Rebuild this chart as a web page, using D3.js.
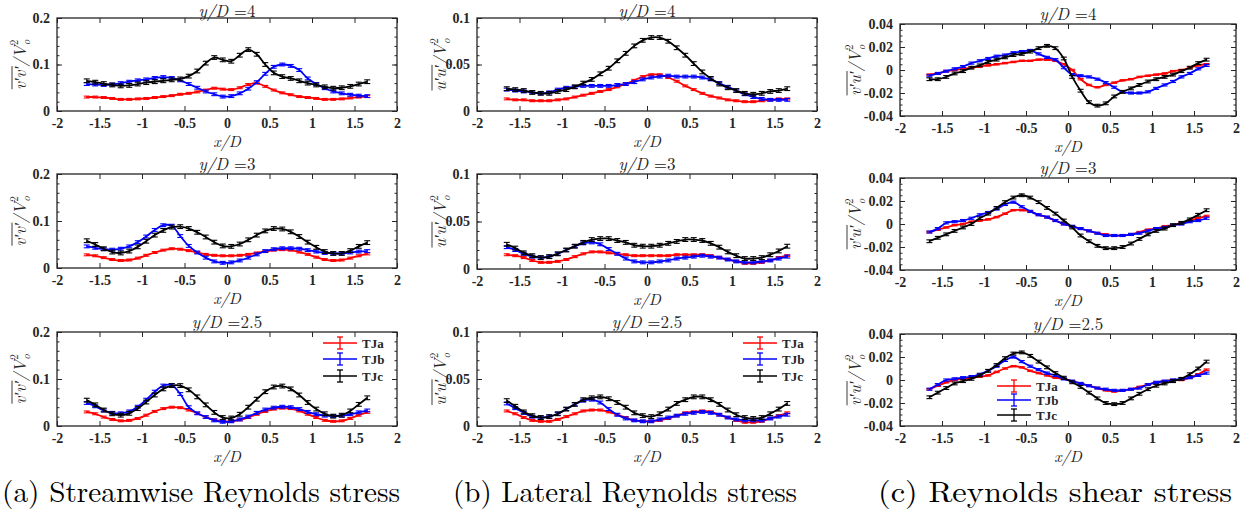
<!DOCTYPE html>
<html>
<head>
<meta charset="utf-8">
<script src="https://cdn.jsdelivr.net/npm/d3@7"></script>
<style>
  body { margin: 0; background: #fff; }
  svg { display: block; }
</style>
</head>
<body>
<svg id="fig" width="1247" height="520"></svg>
<script>
// Measurement stations across the jet, x/D
const xPos = [-1.65, -1.55, -1.45, -1.35, -1.25, -1.15, -1.05, -0.95, -0.85, -0.75, -0.65, -0.55,
  -0.45, -0.35, -0.25, -0.15, -0.05, 0.05, 0.15, 0.25, 0.35, 0.45, 0.55, 0.65,
  0.75, 0.85, 0.95, 1.05, 1.15, 1.25, 1.35, 1.45, 1.55, 1.65];

const seriesNames = ["TJa", "TJb", "TJc"];
const seriesColors = ["#ff0000", "#0000ff", "#000000"];
const stations = ["4", "3", "2.5"];

const xTicks = [-2, -1.5, -1, -0.5, 0, 0.5, 1, 1.5, 2];
const yTicksStream = [0, 0.1, 0.2];
const yTicksLateral = [0, 0.05, 0.1];
const yTicksShear = [-0.04, -0.02, 0, 0.02, 0.04];

// Error-bar half widths (TJa, TJb, TJc)
const errStream = [0.002, 0.003, 0.004];
const errLateral = [0.001, 0.0015, 0.002];
const errShear = [0.0006, 0.0009, 0.0012];

// ---- Streamwise Reynolds stress v'v'/Vo^2 ----
const vv_y4_TJa = [0.030, 0.030, 0.029, 0.027, 0.025, 0.025, 0.026, 0.027, 0.029, 0.031, 0.033, 0.036,
  0.038, 0.041, 0.045, 0.049, 0.047, 0.046, 0.050, 0.057, 0.060, 0.053, 0.045, 0.039,
  0.035, 0.031, 0.029, 0.027, 0.025, 0.025, 0.026, 0.028, 0.030, 0.031];
const vv_y4_TJb = [0.058, 0.057, 0.056, 0.057, 0.060, 0.063, 0.066, 0.068, 0.071, 0.073, 0.071, 0.066,
  0.058, 0.050, 0.042, 0.036, 0.031, 0.032, 0.038, 0.048, 0.062, 0.080, 0.095, 0.100,
  0.097, 0.088, 0.070, 0.058, 0.049, 0.042, 0.038, 0.035, 0.033, 0.032];
const vv_y4_TJc = [0.065, 0.062, 0.059, 0.056, 0.054, 0.055, 0.058, 0.061, 0.063, 0.065, 0.067, 0.069,
  0.075, 0.086, 0.103, 0.115, 0.110, 0.107, 0.120, 0.132, 0.122, 0.100, 0.082, 0.074,
  0.070, 0.065, 0.060, 0.056, 0.052, 0.049, 0.050, 0.053, 0.058, 0.063];

const vv_y3_TJa = [0.028, 0.026, 0.022, 0.018, 0.016, 0.017, 0.021, 0.027, 0.033, 0.038, 0.041, 0.040,
  0.037, 0.033, 0.029, 0.027, 0.026, 0.026, 0.027, 0.029, 0.032, 0.035, 0.038, 0.039,
  0.038, 0.034, 0.029, 0.023, 0.018, 0.016, 0.017, 0.021, 0.026, 0.030];
const vv_y3_TJb = [0.046, 0.043, 0.040, 0.039, 0.041, 0.046, 0.055, 0.067, 0.081, 0.091, 0.090, 0.068,
  0.047, 0.033, 0.022, 0.014, 0.011, 0.012, 0.016, 0.022, 0.029, 0.036, 0.040, 0.042,
  0.042, 0.041, 0.038, 0.035, 0.032, 0.031, 0.031, 0.033, 0.035, 0.036];
const vv_y3_TJc = [0.058, 0.050, 0.041, 0.034, 0.032, 0.036, 0.045, 0.057, 0.070, 0.080, 0.087, 0.088,
  0.084, 0.076, 0.066, 0.055, 0.047, 0.046, 0.051, 0.060, 0.070, 0.079, 0.084, 0.083,
  0.077, 0.067, 0.055, 0.044, 0.035, 0.031, 0.031, 0.037, 0.046, 0.054];

const vv_y25_TJa = [0.030, 0.026, 0.019, 0.014, 0.011, 0.012, 0.016, 0.023, 0.031, 0.037, 0.040, 0.039,
  0.034, 0.027, 0.019, 0.013, 0.010, 0.010, 0.013, 0.018, 0.025, 0.031, 0.036, 0.038,
  0.037, 0.032, 0.025, 0.018, 0.012, 0.010, 0.011, 0.016, 0.023, 0.029];
const vv_y25_TJb = [0.049, 0.042, 0.033, 0.028, 0.027, 0.031, 0.041, 0.056, 0.073, 0.086, 0.087, 0.068,
  0.040, 0.027, 0.019, 0.012, 0.009, 0.010, 0.014, 0.020, 0.028, 0.035, 0.039, 0.041,
  0.040, 0.036, 0.030, 0.025, 0.022, 0.021, 0.022, 0.025, 0.029, 0.033];
const vv_y25_TJc = [0.055, 0.045, 0.034, 0.026, 0.023, 0.027, 0.037, 0.051, 0.066, 0.079, 0.086, 0.086,
  0.077, 0.062, 0.045, 0.029, 0.018, 0.017, 0.025, 0.040, 0.057, 0.073, 0.083, 0.085,
  0.079, 0.066, 0.050, 0.036, 0.026, 0.021, 0.023, 0.032, 0.046, 0.060];

// ---- Lateral Reynolds stress u'u'/Vo^2 ----
const uu_y4_TJa = [0.013, 0.012, 0.012, 0.011, 0.011, 0.011, 0.012, 0.013, 0.015, 0.017, 0.019, 0.021,
  0.023, 0.026, 0.029, 0.033, 0.037, 0.039, 0.039, 0.036, 0.032, 0.027, 0.023, 0.019,
  0.016, 0.014, 0.012, 0.011, 0.010, 0.010, 0.011, 0.012, 0.013, 0.013];
const uu_y4_TJb = [0.023, 0.022, 0.021, 0.020, 0.019, 0.020, 0.023, 0.025, 0.026, 0.027, 0.027, 0.027,
  0.027, 0.028, 0.029, 0.031, 0.034, 0.036, 0.037, 0.038, 0.037, 0.037, 0.037, 0.036,
  0.034, 0.030, 0.026, 0.022, 0.018, 0.015, 0.013, 0.012, 0.012, 0.012];
const uu_y4_TJc = [0.024, 0.023, 0.022, 0.020, 0.019, 0.019, 0.021, 0.023, 0.026, 0.030, 0.034, 0.040,
  0.046, 0.054, 0.062, 0.070, 0.076, 0.079, 0.079, 0.075, 0.068, 0.060, 0.051, 0.042,
  0.035, 0.029, 0.025, 0.022, 0.019, 0.018, 0.019, 0.021, 0.022, 0.024];

const uu_y3_TJa = [0.015, 0.014, 0.012, 0.009, 0.007, 0.007, 0.008, 0.010, 0.013, 0.016, 0.018, 0.018,
  0.017, 0.016, 0.015, 0.014, 0.014, 0.014, 0.014, 0.014, 0.015, 0.015, 0.015, 0.015,
  0.014, 0.012, 0.010, 0.008, 0.006, 0.006, 0.007, 0.009, 0.012, 0.014];
const uu_y3_TJb = [0.023, 0.020, 0.016, 0.013, 0.012, 0.013, 0.016, 0.020, 0.024, 0.027, 0.028, 0.026,
  0.021, 0.016, 0.011, 0.008, 0.007, 0.007, 0.008, 0.009, 0.011, 0.012, 0.013, 0.014,
  0.013, 0.012, 0.010, 0.008, 0.007, 0.007, 0.008, 0.009, 0.011, 0.013];
const uu_y3_TJc = [0.026, 0.022, 0.017, 0.014, 0.012, 0.013, 0.016, 0.020, 0.024, 0.028, 0.031, 0.032,
  0.032, 0.030, 0.028, 0.025, 0.024, 0.024, 0.025, 0.027, 0.029, 0.031, 0.031, 0.030,
  0.027, 0.023, 0.018, 0.014, 0.011, 0.011, 0.012, 0.015, 0.019, 0.024];

const uu_y25_TJa = [0.016, 0.013, 0.009, 0.006, 0.005, 0.005, 0.007, 0.010, 0.013, 0.016, 0.017, 0.017,
  0.015, 0.012, 0.009, 0.006, 0.005, 0.005, 0.006, 0.008, 0.011, 0.014, 0.015, 0.016,
  0.015, 0.012, 0.009, 0.006, 0.004, 0.004, 0.005, 0.008, 0.011, 0.014];
const uu_y25_TJb = [0.024, 0.019, 0.014, 0.010, 0.009, 0.010, 0.013, 0.018, 0.023, 0.027, 0.028, 0.025,
  0.018, 0.012, 0.008, 0.006, 0.005, 0.005, 0.007, 0.009, 0.011, 0.013, 0.014, 0.015,
  0.014, 0.012, 0.009, 0.007, 0.006, 0.006, 0.006, 0.008, 0.010, 0.012];
const uu_y25_TJc = [0.027, 0.021, 0.015, 0.011, 0.009, 0.010, 0.013, 0.018, 0.023, 0.028, 0.030, 0.031,
  0.029, 0.025, 0.020, 0.014, 0.011, 0.010, 0.013, 0.018, 0.024, 0.028, 0.031, 0.031,
  0.028, 0.023, 0.017, 0.012, 0.009, 0.008, 0.009, 0.013, 0.018, 0.024];

// ---- Reynolds shear stress v'u'/Vo^2 ----
const vu_y4_TJa = [-0.004, -0.003, -0.001, 0.000, 0.001, 0.002, 0.003, 0.004, 0.005, 0.006, 0.007, 0.008,
  0.008, 0.009, 0.009, 0.008, 0.005, 0.000, -0.008, -0.013, -0.015, -0.013, -0.011, -0.009,
  -0.008, -0.006, -0.005, -0.004, -0.003, -0.001, 0.000, 0.002, 0.004, 0.005];
const vu_y4_TJb = [-0.005, -0.003, -0.001, 0.001, 0.003, 0.006, 0.008, 0.010, 0.012, 0.013, 0.015, 0.016,
  0.017, 0.014, 0.011, 0.009, 0.002, -0.004, -0.005, -0.006, -0.008, -0.011, -0.015, -0.019,
  -0.020, -0.020, -0.019, -0.016, -0.013, -0.010, -0.006, -0.003, 0.001, 0.004];
const vu_y4_TJc = [-0.008, -0.008, -0.006, -0.003, -0.001, 0.002, 0.004, 0.007, 0.009, 0.011, 0.013, 0.014,
  0.016, 0.019, 0.021, 0.019, 0.010, -0.006, -0.018, -0.028, -0.031, -0.029, -0.023, -0.019,
  -0.016, -0.013, -0.010, -0.008, -0.006, -0.004, -0.001, 0.002, 0.006, 0.009];

const vu_y3_TJa = [-0.007, -0.005, -0.003, -0.001, 0.000, 0.002, 0.003, 0.004, 0.006, 0.009, 0.012, 0.012,
  0.011, 0.008, 0.006, 0.003, 0.000, -0.002, -0.004, -0.006, -0.008, -0.009, -0.010, -0.010,
  -0.009, -0.007, -0.005, -0.004, -0.002, -0.001, 0.001, 0.003, 0.005, 0.007];
const vu_y3_TJb = [-0.007, -0.004, 0.001, 0.002, 0.003, 0.005, 0.008, 0.010, 0.013, 0.017, 0.019, 0.015,
  0.011, 0.008, 0.006, 0.003, 0.000, -0.002, -0.004, -0.006, -0.008, -0.010, -0.010, -0.010,
  -0.009, -0.008, -0.006, -0.004, -0.003, -0.001, 0.000, 0.002, 0.003, 0.005];
const vu_y3_TJc = [-0.015, -0.012, -0.009, -0.006, -0.003, 0.000, 0.005, 0.009, 0.014, 0.019, 0.023, 0.025,
  0.023, 0.019, 0.014, 0.009, 0.003, -0.003, -0.010, -0.015, -0.019, -0.021, -0.021, -0.020,
  -0.017, -0.013, -0.009, -0.006, -0.004, -0.001, 0.001, 0.004, 0.008, 0.012];

const vu_y25_TJa = [-0.008, -0.005, -0.002, 0.000, 0.001, 0.002, 0.003, 0.004, 0.007, 0.010, 0.012, 0.011,
  0.008, 0.006, 0.004, 0.002, 0.001, -0.001, -0.003, -0.005, -0.007, -0.009, -0.010, -0.009,
  -0.008, -0.006, -0.004, -0.002, -0.001, 0.000, 0.000, 0.002, 0.005, 0.009];
const vu_y25_TJb = [-0.008, -0.004, 0.000, 0.001, 0.002, 0.003, 0.005, 0.008, 0.012, 0.017, 0.020, 0.016,
  0.012, 0.009, 0.006, 0.004, 0.001, -0.001, -0.003, -0.005, -0.007, -0.008, -0.009, -0.009,
  -0.008, -0.007, -0.004, -0.002, -0.001, 0.000, 0.001, 0.002, 0.004, 0.006];
const vu_y25_TJc = [-0.015, -0.011, -0.007, -0.003, -0.001, 0.001, 0.004, 0.008, 0.013, 0.019, 0.023, 0.024,
  0.021, 0.016, 0.011, 0.006, 0.002, -0.002, -0.006, -0.011, -0.016, -0.020, -0.021, -0.020,
  -0.016, -0.012, -0.008, -0.005, -0.003, -0.001, 0.001, 0.005, 0.010, 0.016];

const captions = ["(a) Streamwise Reynolds stress", "(b) Lateral Reynolds stress", "(c) Reynolds shear stress"];

// ---------------------------------------------------------------------------
const svg = d3.select("#fig");
const INK = "#262626";
const TEX = '"Latin Modern Roman", "Liberation Serif", serif';
const TIMES = '"Liberation Serif", "Latin Modern Roman", serif';

const columns = [
  {
    left: 57, right: 397, over: "v\u2032v\u2032", labelDx: 37,
    rows: [[18, 111], [174, 268], [332, 426]],
    yTicks: yTicksStream, yMinor: 0.02, err: errStream,
    data: [[vv_y4_TJa, vv_y4_TJb, vv_y4_TJc], [vv_y3_TJa, vv_y3_TJb, vv_y3_TJc], [vv_y25_TJa, vv_y25_TJb, vv_y25_TJc]],
    legend: { x: 323, y: [343, 359, 376] },
    caption: { x: 2, w: 398 }
  },
  {
    left: 477, right: 817, over: "u\u2032u\u2032", labelDx: 37,
    rows: [[18, 111], [174, 269], [332, 426]],
    yTicks: yTicksLateral, yMinor: 0.01, err: errLateral,
    data: [[uu_y4_TJa, uu_y4_TJb, uu_y4_TJc], [uu_y3_TJa, uu_y3_TJb, uu_y3_TJc], [uu_y25_TJa, uu_y25_TJb, uu_y25_TJc]],
    legend: { x: 743, y: [343, 359, 376] },
    caption: { x: 453, w: 344 }
  },
  {
    left: 900, right: 1236, over: "v\u2032u\u2032", labelDx: 45,
    rows: [[24, 116], [178, 270], [334, 426]],
    yTicks: yTicksShear, yMinor: 0.005, err: errShear,
    data: [[vu_y4_TJa, vu_y4_TJb, vu_y4_TJc], [vu_y3_TJa, vu_y3_TJb, vu_y3_TJc], [vu_y25_TJa, vu_y25_TJb, vu_y25_TJc]],
    legend: { x: 997, y: [386, 400, 415] },
    caption: { x: 878, w: 354 }
  }
];

const fmt = d => String(+d.toFixed(3));

function styleAxis(g) {
  g.attr("font-family", null).attr("font-size", null);
  g.select(".domain").remove();
  g.selectAll(".tick line").attr("stroke", INK).attr("stroke-width", 1);
  g.selectAll(".tick text")
    .style("font-family", TIMES).style("font-weight", "bold")
    .style("font-size", "14px").attr("fill", INK);
}

function yLabel(cx, cy, over) {
  const g = svg.append("g").attr("transform", `translate(${cx},${cy}) rotate(-90)`);
  const t = g.append("text")
    .style("font-family", TEX).style("font-style", "italic")
    .style("font-size", "17px").attr("fill", INK).attr("y", 6);
  t.append("tspan").text(over);
  t.append("tspan").text("/V");
  t.append("tspan").style("font-size", "11px").attr("dy", 4).text("o");
  t.append("tspan").style("font-size", "11px").style("font-style", "normal").attr("dy", -12).attr("dx", -5.5).text("2");
  const node = t.node();
  const w = node.getBBox().width;
  const overW = node.getSubStringLength(0, over.length);
  const x0 = -w / 2;
  t.attr("x", x0);
  g.append("line")
    .attr("x1", x0 + 0.5).attr("x2", x0 + overW + 0.5)
    .attr("y1", -8).attr("y2", -8)
    .attr("stroke", INK).attr("stroke-width", 0.9);
}

columns.forEach((col, ci) => {
  const yDomain = d3.extent(col.yTicks);
  col.rows.forEach(([top, bottom], ri) => {
    const x = d3.scaleLinear().domain([-2, 2]).range([col.left, col.right]);
    const y = d3.scaleLinear().domain(yDomain).range([bottom, top]);
    const g = svg.append("g");

    // minor y ticks
    const minor = d3.range(yDomain[0], yDomain[1] + col.yMinor / 2, col.yMinor);
    g.append("g").attr("transform", `translate(${col.left},0)`)
      .call(d3.axisLeft(y).tickValues(minor).tickSize(-2.5).tickFormat(""))
      .call(styleAxis);
    g.append("g").attr("transform", `translate(${col.right},0)`)
      .call(d3.axisRight(y).tickValues(minor).tickSize(-2.5).tickFormat(""))
      .call(styleAxis);

    // major ticks and labels
    g.append("g").attr("transform", `translate(0,${bottom})`)
      .call(d3.axisBottom(x).tickValues(xTicks).tickSizeInner(-5).tickSizeOuter(0).tickPadding(7).tickFormat(fmt))
      .call(styleAxis);
    g.append("g").attr("transform", `translate(0,${top})`)
      .call(d3.axisTop(x).tickValues(xTicks).tickSizeInner(-5).tickSizeOuter(0).tickFormat(""))
      .call(styleAxis);
    g.append("g").attr("transform", `translate(${col.left},0)`)
      .call(d3.axisLeft(y).tickValues(col.yTicks).tickSizeInner(-5).tickSizeOuter(0).tickPadding(7).tickFormat(fmt))
      .call(styleAxis);
    g.append("g").attr("transform", `translate(${col.right},0)`)
      .call(d3.axisRight(y).tickValues(col.yTicks).tickSizeInner(-5).tickSizeOuter(0).tickFormat(""))
      .call(styleAxis);

    // series with error bars
    const line = d3.line().x((d, i) => x(xPos[i])).y(d => y(d)).curve(d3.curveCatmullRom.alpha(0.5));
    col.data[ri].forEach((vals, si) => {
      const color = seriesColors[si];
      const e = col.err[si];
      const s = g.append("g");
      s.append("path").attr("d", line(vals)).attr("fill", "none")
        .attr("stroke", color).attr("stroke-width", 1.8);
      const bars = s.selectAll("g.eb").data(vals).join("g").attr("class", "eb");
      bars.append("line")
        .attr("x1", (d, i) => x(xPos[i])).attr("x2", (d, i) => x(xPos[i]))
        .attr("y1", d => y(d - e)).attr("y2", d => y(d + e));
      bars.append("line")
        .attr("x1", (d, i) => x(xPos[i]) - 3).attr("x2", (d, i) => x(xPos[i]) + 3)
        .attr("y1", d => y(d - e)).attr("y2", d => y(d - e));
      bars.append("line")
        .attr("x1", (d, i) => x(xPos[i]) - 3).attr("x2", (d, i) => x(xPos[i]) + 3)
        .attr("y1", d => y(d + e)).attr("y2", d => y(d + e));
      bars.selectAll("line").attr("stroke", color).attr("stroke-width", 1.1);
    });

    // frame
    g.append("rect")
      .attr("x", col.left).attr("y", top)
      .attr("width", col.right - col.left).attr("height", bottom - top)
      .attr("fill", "none").attr("stroke", INK).attr("stroke-width", 1.3);

    // title
    const cx = (col.left + col.right) / 2;
    const title = g.append("text").attr("x", cx).attr("y", Math.max(top - 4, 17))
      .attr("text-anchor", "middle")
      .style("font-family", TEX).style("font-size", "17px").attr("fill", INK);
    title.append("tspan").style("font-style", "italic").text("y/D");
    title.append("tspan").text(" =" + stations[ri]);

    // x label
    g.append("text").attr("x", cx).attr("y", bottom + 36)
      .attr("text-anchor", "middle")
      .style("font-family", TEX).style("font-style", "italic").style("font-size", "16px")
      .attr("fill", INK).text("x/D");

    // y label
    yLabel(col.left - col.labelDx, (top + bottom) / 2, col.over);

    // legend on the lowest station
    if (ri === 2) {
      const lg = g.append("g");
      seriesNames.forEach((name, si) => {
        const ly = col.legend.y[si];
        const lx = col.legend.x;
        const c = seriesColors[si];
        lg.append("line").attr("x1", lx).attr("x2", lx + 34).attr("y1", ly).attr("y2", ly)
          .attr("stroke", c).attr("stroke-width", 1.3);
        lg.append("line").attr("x1", lx + 17).attr("x2", lx + 17).attr("y1", ly - 6).attr("y2", ly + 6)
          .attr("stroke", c).attr("stroke-width", 1.3);
        [-6, 6].forEach(dy => lg.append("line")
          .attr("x1", lx + 14).attr("x2", lx + 20).attr("y1", ly + dy).attr("y2", ly + dy)
          .attr("stroke", c).attr("stroke-width", 1.3));
        lg.append("text").attr("x", lx + 39).attr("y", ly + 5)
          .style("font-family", TIMES).style("font-weight", "bold")
          .style("font-size", "13px").attr("fill", INK).text(name);
      });
    }
  });

  // subfigure caption
  svg.append("text")
    .attr("x", col.caption.x).attr("y", 502)
    .style("font-family", TEX).style("font-size", "29px").attr("fill", "#000")
    .attr("textLength", col.caption.w).attr("lengthAdjust", "spacingAndGlyphs")
    .text(captions[ci]);
});
</script>
</body>
</html>
